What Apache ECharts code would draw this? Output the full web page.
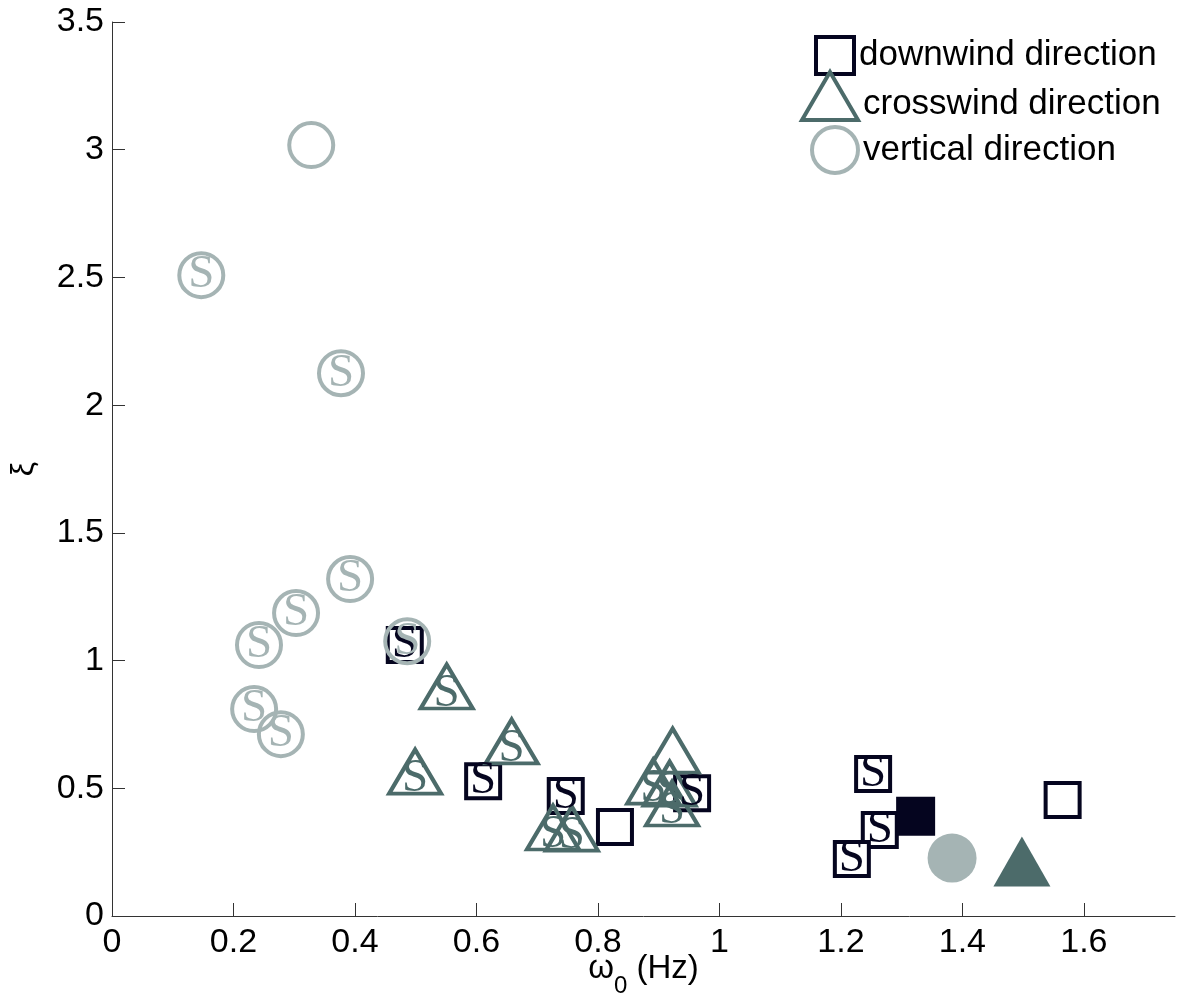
<!DOCTYPE html>
<html>
<head>
<meta charset="utf-8">
<script src="https://cdn.jsdelivr.net/npm/echarts@6/dist/echarts.min.js"></script>
<style>
  html, body { margin: 0; padding: 0; background: #fff; }
  #chart { width: 1177px; height: 999px; }
</style>
</head>
<body>
<div id="chart"></div>
<script>
// tick labels
var xTicks = [0, 0.2, 0.4, 0.6, 0.8, 1, 1.2, 1.4, 1.6];

// downwind direction: [omega0, xi]
var downwindS = [[0.482, 1.061], [0.611, 0.528], [0.747, 0.470], [0.955, 0.481],
                 [1.253, 0.556], [1.264, 0.337], [1.218, 0.223]];
var downwindPlain = [[0.828, 0.348], [1.565, 0.454]];
var downwindFilled = [[1.323, 0.391]];

// crosswind direction
var crosswindS = [[0.551, 0.869], [0.658, 0.654], [0.499, 0.536], [0.726, 0.317],
                  [0.757, 0.313], [0.891, 0.497], [0.918, 0.489], [0.922, 0.411]];
var crosswindPlain = [[0.923, 0.618]];
var crosswindFilled = [[1.498, 0.184]];

// vertical direction
var verticalS = [[0.147, 2.509], [0.377, 2.125], [0.242, 1.061], [0.303, 1.186],
                 [0.392, 1.319], [0.234, 0.810], [0.278, 0.712], [0.486, 1.076]];
var verticalPlain = [[0.328, 3.018]];
var verticalFilled = [[1.383, 0.227]];

var cDown = '#05051f', cCross = '#4c6b6a', cVert = '#a5b4b4';

function build(sArr, plainArr, filledArr, color, filledSize) {
  var out = [];
  sArr.forEach(function (p) { out.push({ value: p, label: { show: true } }); });
  plainArr.forEach(function (p) { out.push({ value: p }); });
  filledArr.forEach(function (p) {
    out.push({ value: p, symbolSize: filledSize, itemStyle: { color: color, borderWidth: 0 } });
  });
  return out;
}

function sLabel(color, offset) {
  return {
    show: false, formatter: 'S', position: 'inside', offset: offset || [0, 0],
    color: color, fontFamily: 'Liberation Serif', fontSize: 47
  };
}

var chart = echarts.init(document.getElementById('chart'), null, { renderer: 'canvas' });

var axisColor = '#333';
var legendText = { fontSize: 35, color: '#000', fontFamily: 'Liberation Sans' };

chart.setOption({
  animation: false,
  backgroundColor: '#fff',
  grid: { left: 112, right: 2, top: 22, bottom: 83, containLabel: false, outerBoundsMode: 'none' },
  legend: [
    { data: ['downwind direction'], left: 814, top: 35, padding: 0, itemWidth: 38, itemHeight: 37,
      selectedMode: false, textStyle: legendText,
      itemStyle: { color: '#fff', borderColor: cDown, borderWidth: 4 } },
    { data: ['crosswind direction'], left: 800, top: 70, padding: 0, itemWidth: 56, itemHeight: 48,
      selectedMode: false,
      formatter: '{t|{name}}',
      textStyle: {
        fontSize: 35, color: '#000', fontFamily: 'Liberation Sans',
        rich: { t: { fontSize: 35, color: '#000', fontFamily: 'Liberation Sans', padding: [17, 0, 0, 0] } }
      },
      itemStyle: { color: '#fff', borderColor: cCross, borderWidth: 4 } },
    { data: ['vertical direction'], left: 810, top: 125, padding: 0, itemWidth: 46, itemHeight: 46,
      selectedMode: false, textStyle: legendText,
      itemStyle: { color: '#fff', borderColor: cVert, borderWidth: 4 } }
  ],
  xAxis: {
    type: 'value', min: 0, max: 1.75,
    name: '{w|ω}{s|0}{w| (Hz)}',
    nameLocation: 'middle', nameGap: 36, nameMoveOverlap: false,
    nameTextStyle: {
      rich: {
        w: { fontSize: 33, lineHeight: 40, verticalAlign: 'top', fontFamily: 'Liberation Sans', color: '#000' },
        s: { fontSize: 24, lineHeight: 24, padding: [22, 0, 0, 0], verticalAlign: 'top', fontFamily: 'Liberation Sans', color: '#000' }
      }
    },
    axisLine: { show: true, onZero: false, lineStyle: { color: axisColor, width: 1 } },
    axisTick: { show: true, inside: true, length: 13, customValues: xTicks, lineStyle: { color: axisColor } },
    axisLabel: { customValues: xTicks, margin: 10, fontSize: 34, color: '#000', fontFamily: 'Liberation Sans' },
    splitLine: { show: false }
  },
  yAxis: {
    type: 'value', min: 0, max: 3.5, interval: 0.5,
    name: 'ξ', nameLocation: 'middle', nameRotate: 90, nameGap: 72,
    nameTextStyle: { fontSize: 32, color: '#000', fontFamily: 'Liberation Sans' },
    axisLine: { show: true, onZero: false, lineStyle: { color: axisColor, width: 1 } },
    axisTick: { show: true, inside: true, length: 13, lineStyle: { color: axisColor } },
    axisLabel: { margin: 8, fontSize: 34, color: '#000', fontFamily: 'Liberation Sans' },
    splitLine: { show: false }
  },
  series: [
    {
      name: 'downwind direction', type: 'scatter', symbol: 'rect', symbolSize: 34,
      itemStyle: { color: '#fff', borderColor: cDown, borderWidth: 4, opacity: 1 },
      label: sLabel(cDown),
      data: build(downwindS, downwindPlain, downwindFilled, cDown, 39)
    },
    {
      name: 'crosswind direction', type: 'scatter', symbol: 'triangle', symbolSize: [52, 44],
      symbolOffset: [0, -7.5],
      itemStyle: { color: 'rgba(255,255,255,0)', borderColor: cCross, borderWidth: 4, opacity: 1 },
      label: sLabel(cCross, [0, 7.5]),
      data: build(crosswindS, crosswindPlain, crosswindFilled, cCross, [57, 50])
    },
    {
      name: 'vertical direction', type: 'scatter', symbol: 'circle', symbolSize: 44,
      itemStyle: { color: 'rgba(255,255,255,0)', borderColor: cVert, borderWidth: 4, opacity: 1 },
      label: sLabel(cVert),
      data: build(verticalS, verticalPlain, verticalFilled, cVert, 49)
    }
  ]
});
</script>
</body>
</html>
